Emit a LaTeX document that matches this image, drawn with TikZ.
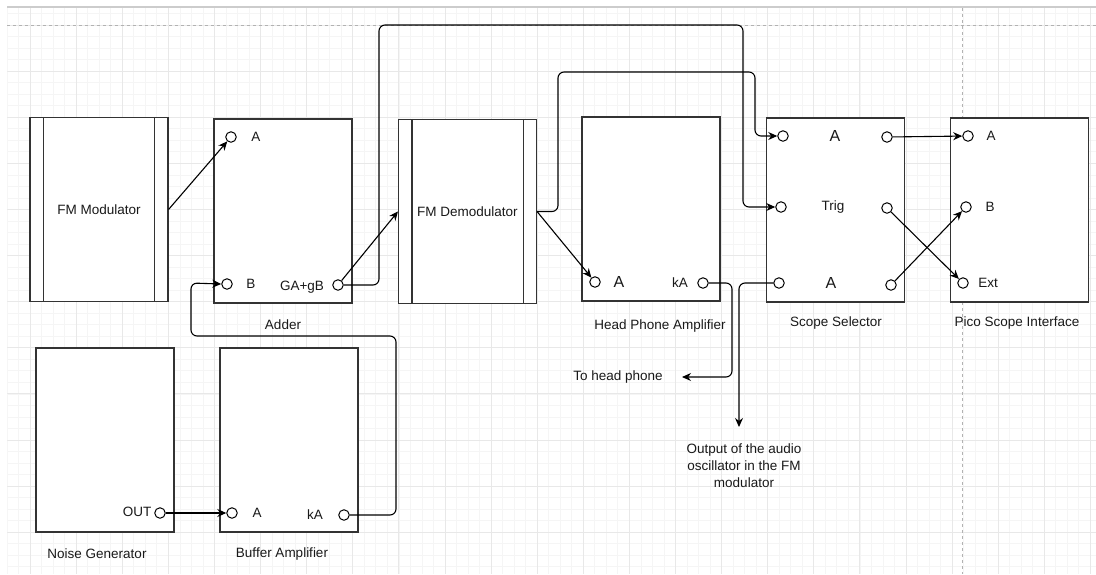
\documentclass[tikz,border=0pt]{standalone}
\usepackage{fontspec}
\setmainfont{Liberation Sans}
\usetikzlibrary{arrows.meta}

\tikzset{fmblk/.style={draw=black!80,fill=white,line width=1.1pt,minimum width=138pt,minimum height=184pt,inner sep=0pt},
         fmport/.style={circle,draw,fill=white,inner sep=0pt,minimum size=10.5pt,line width=1pt},
         fmlab/.style={font=\fontsize{13.5}{17}\selectfont,text=black!90,inner sep=1pt},
         fmbig/.style={font=\fontsize{16}{18}\selectfont,text=black!90,inner sep=1pt},
         fmwire/.style={line width=1.1pt,rounded corners=6pt,-{Stealth[length=9pt,width=8pt]}},
         fmminor/.style={black!4,line width=0.6pt},
         fmmajor/.style={black!9,line width=0.8pt}}

\begin{document}
\begin{tikzpicture}[x=1pt,y=-1pt]
    \useasboundingbox (0,0) rectangle (1096,574);
    % page grid
    \foreach \k in {-2,...,92} \draw[fmminor] ({30+11.525*\k},8) -- ++(0,566);
    \foreach \k in {-1,...,47} \draw[fmminor] (7,{25+11.525*\k}) -- (1096,{25+11.525*\k});
    \foreach \k in {0,4,...,92} \draw[fmmajor] ({30+11.525*\k},8) -- ++(0,566);
    \foreach \k in {0,4,...,44} \draw[fmmajor] (7,{25+11.525*\k}) -- (1096,{25+11.525*\k});
    \fill[white] (0,0) rectangle (7,574) (0,0) rectangle (1096,6);
    \draw[black!20,line width=2pt] (7,7) -- (1096,7);
    \draw[black!30,line width=1pt,dash pattern=on 3pt off 3pt] (7,25) -- (1096,25) (962,8) -- (962,574);

    % blocks
    \node[fmblk] (fmm) at (99,209.5) {};
    \node[fmblk] (add) at (283,211) {};
    \node[fmblk] (dem) at (467.5,211.5) {};
    \node[fmblk] (hpa) at (651,209) {};
    \node[fmblk] (ss) at (835.5,210) {};
    \node[fmblk] (pico) at (1019.5,210) {};
    \node[fmblk] (ng) at (105,440) {};
    \node[fmblk] (buf) at (289,440) {};
    \foreach \b in {fmm,dem} \draw[black!80,line width=1.1pt] ([xshift=14pt]\b.north west) -- ([xshift=14pt]\b.south west) ([xshift=-14pt]\b.north east) -- ([xshift=-14pt]\b.south east);
    \node[fmlab] (fmmt) at (fmm) {FM Modulator};
    \node[fmlab] (demt) at (dem) {FM Demodulator};

    % ports
    \foreach \n/\x/\y in {addA/231/137,addB/227/284,addO/338/285,hpA/595/282,hpK/703/283,
                          ssA1/783/136,ssT/781/207,ssA2/779/283,ssR1/887/137,ssR2/887/208,ssR3/891/285,
                          piA/968/136,piB/966/207,piE/963/283,ngO/160/513,bfA/232/513,bfK/344/515}
      \node[fmport] (\n) at (\x,\y) {};

    % port and block labels
    \foreach \n/\x/\y/\t in {laA/256/137/A,laB/251/284/B,laO/302/287/GA+gB,lhK/680/283/kA,lsT/833/207/Trig,
                             lpA/991/136/A,lpB/990/207/B,lpE/988/283/Ext,lnO/137/512/OUT,lbA/257/513/A,lbK/315/515/kA,
                             tadd/283/325/Adder,thpa/660/326/Head Phone Amplifier,tss/836/323/Scope Selector,
                             tpico/1017/323/Pico Scope Interface,tng/97/554/Noise Generator,tbuf/282/554/Buffer Amplifier,
                             tohp/618/377/To head phone}
      \node[fmlab] (\n) at (\x,\y) {\t};
    \foreach \n/\x/\y in {lhA/619/282,lsA1/835/136,lsA2/831/283}
      \node[fmbig] (\n) at (\x,\y) {A};
    \node[fmlab,align=center] (oscnote) at (744,466) {Output of the audio\\oscillator in the FM\\modulator};

    % connections
    \coordinate (hpout) at (682,377);
    \coordinate (oscout) at (739,427);
    \draw[fmwire] (fmm.east) -- (addA);
    \draw[fmwire] (addO) -- (dem.west);
    \draw[fmwire] (addO.east) -| (379,25) -| (743,207) -- (ssT.west);
    \draw[fmwire] (dem.east) -| (558,72) -| (755,136) -- (ssA1.west);
    \draw[fmwire] (dem.east) -- (hpA);
    \draw[fmwire] (hpK.east) -| (732,377) -- (hpout);
    \draw[fmwire] (ssA2.west) -| (oscout);
    \foreach \i/\j in {ssR1/piA,ssR2/piE,ssR3/piB,ngO/bfA} \draw[fmwire] (\i) -- (\j);
    \draw[fmwire] (bfK.east) -| (396,336) -| (191,283) -- (addB.west);
\end{tikzpicture}
\end{document}
